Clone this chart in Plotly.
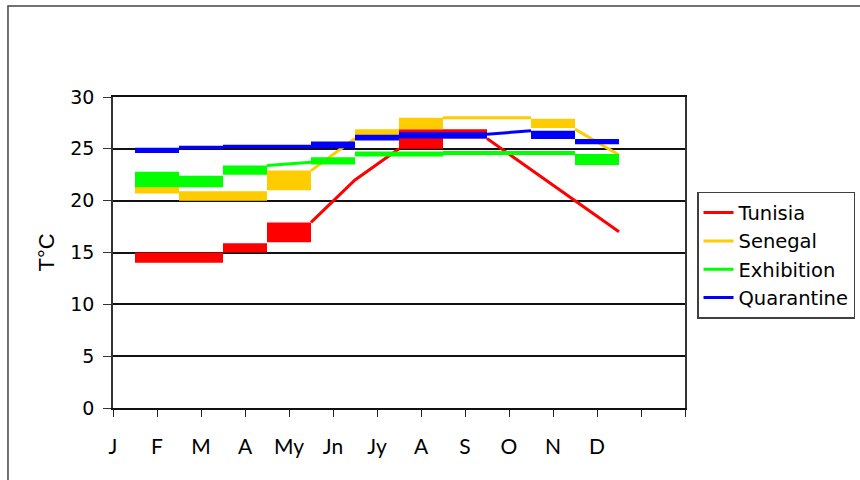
import plotly.graph_objects as go

# Month labels along the x axis (two trailing ticks carry no label)
months = ["J", "F", "M", "A", "My", "Jn", "Jy", "A", "S", "O", "N", "D"]

series_names = ["Tunisia", "Senegal", "Exhibition", "Quarantine"]
series_colors = ["#FF0000", "#FFCC00", "#00FF00", "#0000FF"]

# Monthly temperature ranges (low / high); None where the month is a plain line
tunisia_lo = [None, 14.0, 14.0, 15.0, 16.0, None, None, 25.0, 26.0, None, None, None]
tunisia_hi = [None, 15.0, 15.0, 15.9, 17.9, None, None, 26.9, 26.9, None, None, None]
senegal_lo = [None, 20.7, 20.0, 20.0, 21.0, None, 26.0, 26.9, None, None, 27.0, None]
senegal_hi = [None, 21.6, 20.9, 20.9, 22.9, None, 26.9, 28.0, None, None, 27.9, None]
exhibition_lo = [None, 21.3, 21.3, 22.5, None, 23.5, 24.25, 24.25, 24.4, 24.4, 24.4, 23.45]
exhibition_hi = [None, 22.8, 22.4, 23.4, None, 24.2, 24.75, 24.75, 24.8, 24.8, 24.8, 24.5]
quarantine_lo = [None, 24.6, 24.95, 25.05, 25.05, 25.05, 25.8, 26.0, 26.0, None, 25.95, 25.45]
quarantine_hi = [None, 25.1, 25.3, 25.4, 25.4, 25.7, 26.35, 26.6, 26.6, None, 26.75, 25.95]

# Single readings: temperature at the start and end of the month
tunisia_from = [None, None, None, None, None, 17.9, 22.0, None, None, 26.0, 23.0, 20.0]
tunisia_to = [None, None, None, None, None, 22.0, 25.0, None, None, 23.0, 20.0, 17.0]
senegal_from = [None, None, None, None, None, 22.9, None, None, 28.0, 28.0, None, 26.9]
senegal_to = [None, None, None, None, None, 26.0, None, None, 28.0, 28.0, None, 24.4]
exhibition_from = [None, None, None, None, 23.4, None, None, None, None, None, None, None]
exhibition_to = [None, None, None, None, 23.7, None, None, None, None, None, None, None]
quarantine_from = [None, None, None, None, None, None, None, None, None, 26.4, None, None]
quarantine_to = [None, None, None, None, None, None, None, None, None, 26.75, None, None]

ranges_lo = [tunisia_lo, senegal_lo, exhibition_lo, quarantine_lo]
ranges_hi = [tunisia_hi, senegal_hi, exhibition_hi, quarantine_hi]
lines_from = [tunisia_from, senegal_from, exhibition_from, quarantine_from]
lines_to = [tunisia_to, senegal_to, exhibition_to, quarantine_to]


def range_polygons(lo, hi):
    xs, ys = [], []
    for k, (a, b) in enumerate(zip(lo, hi)):
        if a is None:
            continue
        xs += [k - 0.5, k + 0.5, k + 0.5, k - 0.5, k - 0.5, None]
        ys += [a, a, b, b, a, None]
    return xs, ys


def line_path(start, end):
    xs, ys = [], []
    prev_end = None
    for k, (a, b) in enumerate(zip(start, end)):
        if a is None:
            prev_end = None
            continue
        if prev_end is not None and xs and xs[-1] == k - 0.5 and abs(ys[-1] - a) < 1e-9:
            xs.append(k + 0.5)
            ys.append(b)
        else:
            if xs:
                xs.append(None)
                ys.append(None)
            xs += [k - 0.5, k + 0.5]
            ys += [a, b]
        prev_end = b
    return xs, ys


fig = go.Figure()
for name, color, lo, hi, st, en in zip(series_names, series_colors,
                                       ranges_lo, ranges_hi, lines_from, lines_to):
    px_, py_ = range_polygons(lo, hi)
    fig.add_trace(go.Scatter(x=px_, y=py_, mode="lines", fill="toself",
                             fillcolor=color, line=dict(width=0, color=color),
                             showlegend=False, hoverinfo="skip", name=name))
    lx, ly = line_path(st, en)
    fig.add_trace(go.Scatter(x=lx, y=ly, mode="lines", name=name,
                             line=dict(color=color, width=3)))

tick_pos = list(range(14))
tick_txt = months + ["", ""]

fig.update_layout(
    width=860, height=480,
    margin=dict(l=113, r=175, t=97, b=72, autoexpand=False),
    paper_bgcolor="white", plot_bgcolor="white",
    showlegend=True,
    legend=dict(x=1.021, y=0.695, xanchor="left", yanchor="top",
                bordercolor="#404040", borderwidth=1.5, bgcolor="white",
                font=dict(family="DejaVu Sans", size=19.5, color="black"),
                tracegroupgap=0),
    xaxis=dict(range=[0, 13], tickmode="array", tickvals=tick_pos, ticktext=tick_txt,
               ticks="outside", ticklen=7, tickcolor="#222", tickwidth=1.3,
               showgrid=False, zeroline=False, showline=True, linecolor="#111",
               linewidth=1.5, mirror=True, ticklabelstandoff=12,
               tickfont=dict(family="Lato", size=21, color="black")),
    yaxis=dict(range=[0, 30], tickmode="array", tickvals=[0, 5, 10, 15, 20, 25, 30],
               ticks="outside", ticklen=8, tickcolor="#333", tickwidth=1.3,
               showgrid=True, gridcolor="#111", gridwidth=1.5, zeroline=False,
               showline=True, linecolor="#333", linewidth=1.5, mirror=True,
               ticklabelstandoff=5,
               tickfont=dict(family="DejaVu Sans", size=19, color="black"),
               title=dict(text="T°C", standoff=10,
                          font=dict(family="Liberation Sans", size=22, color="black"))),
    shapes=[dict(type="rect", xref="paper", yref="paper",
                 x0=-0.1836, x1=1.33, y0=-0.3, y1=1.2926,
                 line=dict(color="#444", width=1.5), fillcolor="rgba(0,0,0,0)",
                 layer="below")],
)

fig.write_html("out.html")
